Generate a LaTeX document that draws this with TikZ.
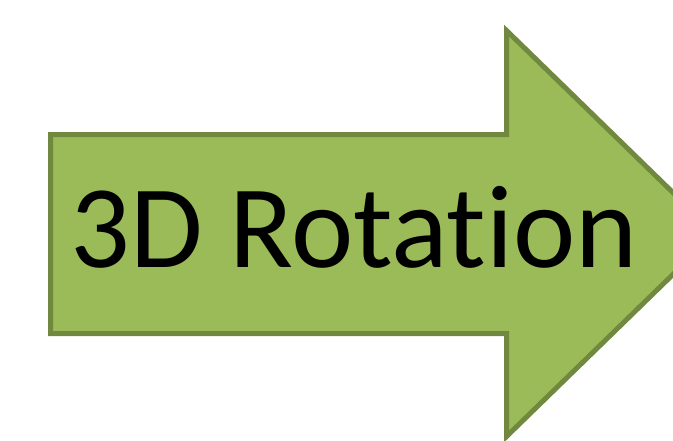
\documentclass[tikz,border=0pt]{standalone}
\usepackage{fontspec}
\setmainfont[Ligatures=NoCommon]{Carlito}
\definecolor{arrowfill}{HTML}{9BBB59}
\definecolor{arrowline}{HTML}{71893F}
\begin{document}
\begin{tikzpicture}[x=1pt,y=-1pt,
  bigarrow/.style={fill=arrowfill,draw=arrowline,line width=5pt,line join=miter},
  label/.style={font=\fontsize{118}{140}\selectfont,inner sep=0pt,anchor=base}]
\useasboundingbox (0,0) rectangle (673,440);
\draw[bigarrow] (50.5,134.5) -- (506.5,134.5) -- (506.5,30.5) -- (715,233.5)
  -- (506.5,436.5) -- (506.5,333.5) -- (50.5,333.5) -- cycle;
\node[label] (t) at (354,267) {3D Rotation};
\end{tikzpicture}
\end{document}
